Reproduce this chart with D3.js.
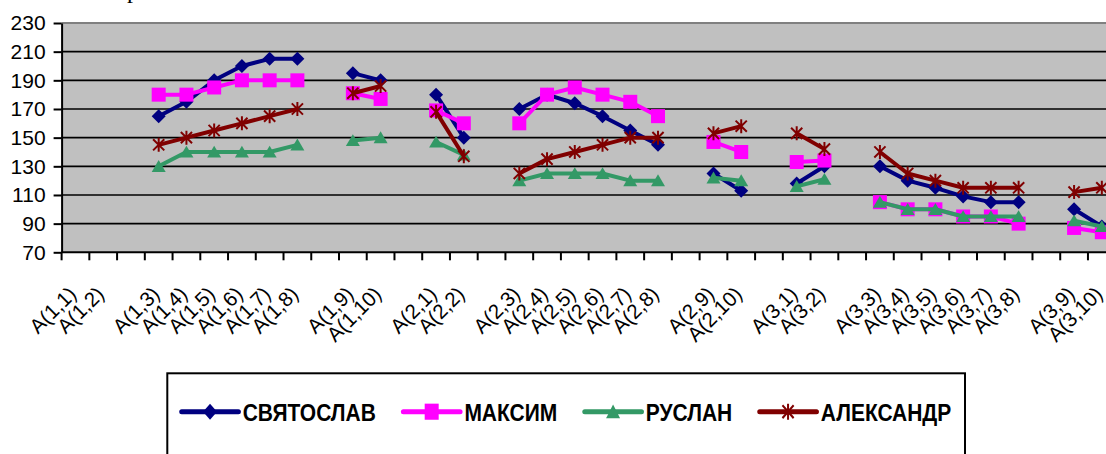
<!DOCTYPE html>
<html>
<head>
<meta charset="utf-8">
<script src="https://cdn.jsdelivr.net/npm/d3@7"></script>
<style>
  html, body { margin: 0; padding: 0; background: #fff; overflow: hidden; }
  svg { display: block; font-family: 'Liberation Sans', Arial, sans-serif; }
</style>
</head>
<body>
<div id="chart"></div>
<script>
// categories (blank entries are the empty spacer columns)
const categories = [
  'A(1,1)', 'A(1,2)', '', 'A(1,3)', 'A(1,4)', 'A(1,5)', 'A(1,6)', 'A(1,7)', 'A(1,8)', '',
  'A(1,9)', 'A(1,10)', '', 'A(2,1)', 'A(2,2)', '', 'A(2,3)', 'A(2,4)', 'A(2,5)', 'A(2,6)',
  'A(2,7)', 'A(2,8)', '', 'A(2,9)', 'A(2,10)', '', 'A(3,1)', 'A(3,2)', '', 'A(3,3)',
  'A(3,4)', 'A(3,5)', 'A(3,6)', 'A(3,7)', 'A(3,8)', '', 'A(3,9)', 'A(3,10)',
];

const seriesNames = ['СВЯТОСЛАВ', 'МАКСИМ', 'РУСЛАН', 'АЛЕКСАНДР'];

const svyatoslav = [
  null, null, null, 165, 175, 190, 200, 205, 205, null, 195, 190, null, 180, 150, null,
  170, 180, 174, 165, 155, 145, null, 125, 113, null, 118, 130, null, 130, 120, 115, 109,
  105, 105, null, 100, 88,
];
const maksim = [
  null, null, null, 180, 180, 185, 190, 190, 190, null, 181, 177, null, 169, 160, null,
  160, 180, 185, 180, 175, 165, null, 147, 140, null, 133, 134, null, 105, 100, 100, 95,
  95, 90, null, 87, 84,
];
const ruslan = [
  null, null, null, 130, 140, 140, 140, 140, 145, null, 148, 150, null, 147, 138, null,
  120, 125, 125, 125, 120, 120, null, 122, 120, null, 116, 121, null, 105, 100, 100, 95,
  95, 95, null, 92, 88,
];
const aleksandr = [
  null, null, null, 145, 150, 155, 160, 165, 170, null, 181, 186, null, 168, 137, null,
  125, 135, 140, 145, 150, 150, null, 153, 158, null, 153, 142, null, 140, 125, 120, 115,
  115, 115, null, 112, 115,
];

const yTicks = [70, 90, 110, 130, 150, 170, 190, 210, 230];

// chart
const width = 1106;
const height = 454;
const plotLeft = 61.6;
const plotRight = 1115.7; // runs past the window edge, as in the source
const plotTop = 23;
const plotBottom = 252.3;

const colors = ['#000080', '#ff00ff', '#339966', '#800000'];
const markers = ['diamond', 'square', 'triangle', 'star'];

const series = [svyatoslav, maksim, ruslan, aleksandr].map((values, i) => ({
  name: seriesNames[i],
  values,
  color: colors[i],
  marker: markers[i],
}));

function markerPath(type, s) {
  const p = d3.path();
  if (type === 'diamond') {
    p.moveTo(0, -s); p.lineTo(s, 0); p.lineTo(0, s); p.lineTo(-s, 0); p.closePath();
  } else if (type === 'square') {
    p.rect(-s, -s, 2 * s, 2 * s);
  } else if (type === 'triangle') {
    p.moveTo(0, -s * 0.9); p.lineTo(s, s * 0.8); p.lineTo(-s, s * 0.8); p.closePath();
  } else {
    p.moveTo(0, -s); p.lineTo(0, s);
    p.moveTo(-s * 0.8, -s * 0.8); p.lineTo(s * 0.8, s * 0.8);
    p.moveTo(s * 0.8, -s * 0.8); p.lineTo(-s * 0.8, s * 0.8);
  }
  return p.toString();
}

function drawMarker($g, d, size) {
  const star = d.marker === 'star';
  $g.append('path')
    .attr('d', markerPath(d.marker, size))
    .attr('fill', star ? 'none' : d.color)
    .attr('stroke', d.color)
    .attr('stroke-width', star ? 2 : 0);
}

const $svg = d3.select('#chart').append('svg')
  .attr('width', width)
  .attr('height', height);

const x = d3.scaleBand().domain(d3.range(categories.length)).range([plotLeft, plotRight]);
const y = d3.scaleLinear().domain([70, 230]).range([plotBottom, plotTop]);
const cx = i => x(i) + x.bandwidth() / 2;

// cropped title glyph at the very top
$svg.append('text')
  .attr('x', 127)
  .attr('y', -2)
  .attr('font-family', "'Liberation Serif', 'Times New Roman', serif")
  .attr('font-size', 24)
  .text('р');

// plot area
$svg.append('rect')
  .attr('x', plotLeft)
  .attr('y', plotTop)
  .attr('width', plotRight - plotLeft)
  .attr('height', plotBottom - plotTop)
  .attr('fill', '#c0c0c0');

$svg.append('line')
  .attr('x1', plotLeft).attr('x2', plotRight)
  .attr('y1', plotTop).attr('y2', plotTop)
  .attr('stroke', '#808080')
  .attr('stroke-width', 2);

// gridlines
$svg.append('g')
  .selectAll('line')
  .data(yTicks.slice(1, -1))
  .join('line')
  .attr('x1', plotLeft).attr('x2', plotRight)
  .attr('y1', d => y(d)).attr('y2', d => y(d))
  .attr('stroke', '#000')
  .attr('stroke-width', 1.7);

// y axis
const $yAxis = $svg.append('g')
  .attr('transform', `translate(${plotLeft},0)`)
  .call(d3.axisLeft(y).tickValues(yTicks).tickSize(8).tickPadding(8).tickSizeOuter(0));
$yAxis.select('.domain').attr('stroke', '#000').attr('stroke-width', 2);
$yAxis.selectAll('.tick line').attr('stroke', '#000').attr('stroke-width', 2);
$yAxis.selectAll('.tick text')
  .attr('font-size', 21)
  .attr('font-family', "'Liberation Sans', Arial, sans-serif")
  .attr('fill', '#000');

// x axis
const $xAxis = $svg.append('g');
$xAxis.append('line')
  .attr('x1', plotLeft).attr('x2', plotRight)
  .attr('y1', plotBottom).attr('y2', plotBottom)
  .attr('stroke', '#000')
  .attr('stroke-width', 2);

$xAxis.selectAll('.tick')
  .data(d3.range(categories.length))
  .join('line')
  .attr('class', 'tick')
  .attr('x1', d => x(d)).attr('x2', d => x(d))
  .attr('y1', plotBottom).attr('y2', plotBottom + 8)
  .attr('stroke', '#000')
  .attr('stroke-width', 2);

$xAxis.selectAll('text')
  .data(categories.map((c, i) => ({ c, i })).filter(d => d.c))
  .join('text')
  .attr('transform', d => `translate(${cx(d.i) - 3},${plotBottom + 38}) rotate(-45)`)
  .attr('text-anchor', 'end')
  .attr('dy', '0.35em')
  .attr('font-size', 20.5)
  .attr('fill', '#000')
  .text(d => d.c);

// series
const line = d3.line()
  .defined(d => d != null)
  .x((d, i) => cx(i))
  .y(d => y(d));

const $series = $svg.append('g')
  .selectAll('g')
  .data(series)
  .join('g');

$series.append('path')
  .attr('d', d => line(d.values))
  .attr('fill', 'none')
  .attr('stroke', d => d.color)
  .attr('stroke-width', 4)
  .attr('stroke-linejoin', 'round');

$series.each(function (d) {
  const $g = d3.select(this);
  d.values.forEach((v, i) => {
    if (v == null) return;
    const $m = $g.append('g').attr('transform', `translate(${cx(i)},${y(v)})`);
    drawMarker($m, d, 7);
  });
});

// legend
const $legend = $svg.append('g');
$legend.append('rect')
  .attr('x', 167.3)
  .attr('y', 373.3)
  .attr('width', 965 - 167.3)
  .attr('height', 120)
  .attr('fill', 'none')
  .attr('stroke', '#000')
  .attr('stroke-width', 2);

let lx = 181.7;
const ly = 411.7;
series.forEach(d => {
  const $item = $legend.append('g');
  $item.append('line')
    .attr('x1', lx).attr('x2', lx + 56.7)
    .attr('y1', ly).attr('y2', ly)
    .attr('stroke', d.color)
    .attr('stroke-width', 5)
    .attr('stroke-linecap', 'round');
  const $m = $item.append('g').attr('transform', `translate(${lx + 28.3},${ly}) scale(1,1.15)`);
  drawMarker($m, d, 7);
  const $t = $item.append('text')
    .attr('transform', `translate(${lx + 61},421) scale(1,1.1)`)
    .attr('font-size', 21)
    .attr('font-weight', 'bold')
    .attr('fill', '#000')
    .text(d.name);
  lx += 61 + $t.node().getComputedTextLength() + 27.5;
});
</script>
</body>
</html>
